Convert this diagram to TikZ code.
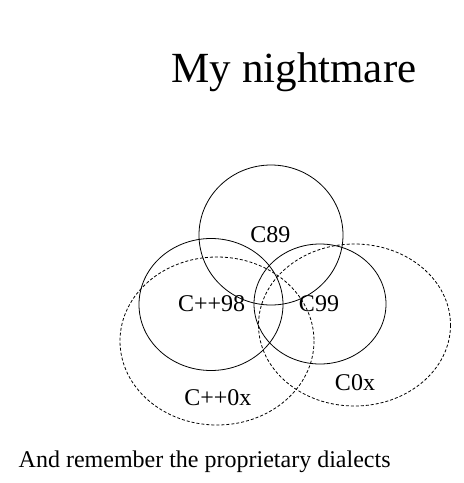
\documentclass[tikz,border=0pt]{standalone}
\usepackage{fontspec}
\setmainfont{Liberation Serif}
\usepackage{tikz}

\begin{document}
\begin{tikzpicture}[x=1pt, y=-1pt, line width=0.8pt,
    std/.style={draw},
    ext/.style={draw, dash pattern=on 3pt off 2pt},
    lbl/.style={anchor=base, inner sep=0pt, font=\fontsize{24}{28}\selectfont}]

    \useasboundingbox (0,0) rectangle (464,483);

    \node[anchor=base, inner sep=0pt, font=\fontsize{43}{50}\selectfont] (title) at (294,82) {My nightmare};

    \draw[std] (271,235) ellipse [x radius=72, y radius=70];
    \draw[std] (211,304.5) ellipse [x radius=72, y radius=66];
    \draw[std] (320,304) ellipse [x radius=66, y radius=60];
    \draw[ext] (217,341) ellipse [x radius=97, y radius=84];
    \draw[ext] (354.5,325) ellipse [x radius=96, y radius=81];

    \node[lbl] (C89) at (270.3,242.3) {C89};
    \node[lbl] (CPP98) at (211.7,311) {C++98};
    \node[lbl] (C99) at (319,311) {C99};
    \node[lbl] (CPP0x) at (217.8,405) {C++0x};
    \node[lbl] (C0x) at (355,390.7) {C0x};

    \node[lbl, anchor=base west] (note) at (18.3,467) {And remember the proprietary dialects};
\end{tikzpicture}
\end{document}
